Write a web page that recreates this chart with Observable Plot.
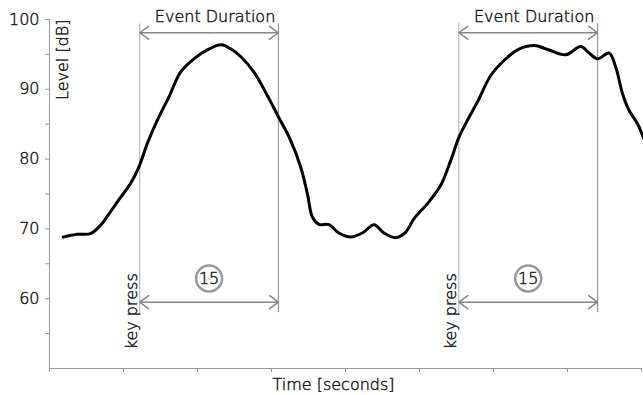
<!DOCTYPE html>
<html><head><meta charset="utf-8">
<script src="https://cdn.jsdelivr.net/npm/d3@7"></script>
<script src="https://cdn.jsdelivr.net/npm/@observablehq/plot@0.6"></script>
<style>body{margin:0;background:#fff}svg{display:block}svg text{font-weight:200;stroke:#1a1a1a;stroke-width:0.45px}</style>
</head><body><div id="chart"></div>
<script>
// Time (seconds) and sound level (dB)
const time = [1.48, 3.00, 4.43, 5.52, 6.41, 7.68, 8.76, 9.66, 10.57, 11.65, 12.90, 14.17, 15.61, 17.06, 18.57, 19.58, 20.66, 22.10, 23.55, 24.80, 26.07, 27.15, 27.88, 28.42, 29.13, 30.21, 31.29, 32.56, 33.82, 35.08, 36.16, 37.43, 38.51, 39.41, 40.86, 42.29, 43.38, 44.27, 45.18, 46.44, 47.70, 49.14, 50.59, 52.39, 53.84, 55.82, 57.44, 58.34, 59.24, 60.50, 61.22, 61.95, 62.66, 63.57, 64.25];
const level = [68.84, 69.22, 69.32, 70.51, 72.1, 74.5, 76.5, 78.86, 82.21, 85.54, 88.88, 92.46, 94.37, 95.66, 96.38, 95.81, 94.70, 92.46, 89.12, 85.93, 82.68, 78.86, 75.05, 71.70, 70.66, 70.61, 69.41, 68.84, 69.41, 70.61, 69.41, 68.75, 69.55, 71.47, 73.62, 76.24, 79.82, 83.15, 85.54, 88.65, 91.98, 94.13, 95.66, 96.28, 95.71, 94.95, 96.14, 95.18, 94.37, 95.18, 93.17, 89.36, 86.97, 85.07, 82.92];
const eventStarts = [9.75, 44.25];
const eventDuration = 15;
const xTicks = [0, 8, 16, 24, 32, 40, 48, 56, 64];
const yTicks = [55, 60, 65, 70, 75, 80, 85, 90, 95, 100];
const yLabels = [60, 70, 80, 90, 100];
const xLabel = "Time [seconds]";
const yLabel = "Level [dB]";
const eventLabel = "Event Duration";
const keyLabel = "key press";

// annotation levels (dB)
const ann = {lineTop: 99.4, startBottom: 57.6, endBottom: 58.0, topArrow: 98.1, bottomArrow: 59.5, circle: 62.9, keyPress: 58.2};

const curveData = time.map((t, i) => ({t, level: level[i]}));
const events = eventStarts.map(s => ({start: s, end: s + eventDuration, mid: s + eventDuration / 2, duration: eventDuration}));

const gray = "#999", textColor = "#1a1a1a";
const arrowOpts = {stroke: "#888", strokeWidth: 1.5, headLength: 11, headAngle: 72};

const chart = Plot.plot({
  width: 643, height: 395,
  marginLeft: 49, marginRight: 2, marginTop: 19, marginBottom: 27,
  style: {fontFamily: "DejaVu Sans", fontSize: "16px", color: textColor, background: "#fff"},
  x: {domain: [0, 64], label: null},
  y: {domain: [50, 100], label: null},
  marks: [
    Plot.axisY({ticks: yTicks, tickSize: 4, tickFormat: () => "", color: gray, label: null}),
    Plot.axisY({ticks: yLabels, tickSize: 0, tickPadding: 10, color: textColor, label: null, fontSize: 16}),
    Plot.axisX({ticks: xTicks, tickSize: 4, tickFormat: () => "", color: gray, label: null}),
    Plot.ruleX([0], {stroke: gray}),
    Plot.ruleY([50], {stroke: gray}),
    Plot.text([yLabel], {frameAnchor: "top-left", rotate: -90, textAnchor: "end", lineAnchor: "bottom", dx: 18, fill: textColor, fontSize: 16}),
    Plot.text([xLabel], {frameAnchor: "bottom", lineAnchor: "bottom", dy: 21, dx: -12, fill: textColor, fontSize: 16}),
    Plot.ruleX(events, {x: "start", y1: ann.lineTop, y2: ann.startBottom, stroke: "#bbb", strokeWidth: 1.2}),
    Plot.ruleX(events, {x: "end", y1: ann.lineTop, y2: ann.endBottom, stroke: gray, strokeWidth: 1.2}),
    Plot.arrow(events, {x1: "mid", x2: "start", y: ann.topArrow, ...arrowOpts}),
    Plot.arrow(events, {x1: "mid", x2: "end", y: ann.topArrow, ...arrowOpts}),
    Plot.arrow(events, {x1: "mid", x2: "start", y: ann.bottomArrow, ...arrowOpts}),
    Plot.arrow(events, {x1: "mid", x2: "end", y: ann.bottomArrow, ...arrowOpts}),
    Plot.text(events, {x: "mid", y: ann.topArrow, text: () => eventLabel, lineAnchor: "bottom", dy: -11, dx: 6, fill: textColor, fontSize: 16}),
    Plot.text(events, {x: "start", y: ann.keyPress, text: () => keyLabel, rotate: -90, lineAnchor: "bottom", dx: -3, fill: textColor, fontSize: 16}),
    Plot.dot(events, {x: "mid", y: ann.circle, r: 13, stroke: gray, strokeWidth: 2.5, fill: "white"}),
    Plot.text(events, {x: "mid", y: ann.circle, text: d => String(d.duration), fill: textColor, fontSize: 16}),
    Plot.line(curveData, {x: "t", y: "level", curve: "catmull-rom", stroke: "black", strokeWidth: 3, strokeLinejoin: "round", strokeLinecap: "round"})
  ]
});
document.getElementById("chart").appendChild(chart);
</script>
</body></html>
